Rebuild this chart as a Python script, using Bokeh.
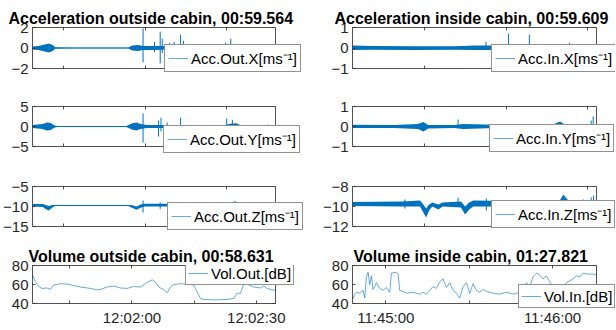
from bokeh.plotting import figure
from bokeh.models import FixedTicker, LinearAxis, Legend, LegendItem, Range1d
from bokeh.layouts import column, row
from bokeh.embed import file_html
from bokeh.resources import INLINE

BLUE = "#0072BD"
AX = "#262626"
FONT = "Liberation Sans"

# ---------------- data (seconds from start of each record) ----------------
# Acceleration outside cabin X : noise envelope + spikes
acc_out_x_t = [0, 1.5, 3, 4, 5, 5.5, 10, 23.5, 24.5, 26, 27, 30, 33, 36, 40, 44, 48, 49.5, 57, 57.7, 58.5, 59.6]
acc_out_x_hi = [.15, .2, .35, .45, .3, .08, .05, .05, .25, .3, .2, .2, .2, .25, .15, .2, .25, .1, .1, .25, .08, .08]
acc_out_x_lo = [-.15, -.2, -.35, -.45, -.3, -.08, -.05, -.05, -.25, -.3, -.2, -.2, -.15, -.2, -.15, -.15, -.2, -.1, -.1, -.2, -.08, -.08]
acc_out_x_spk_t = [27.1, 29.9, 31.3, 31.8, 33.6, 34.7, 36.3, 37.0, 47.3, 48.6]
acc_out_x_spk_lo = [-1.4, -0.4, -1.5, -0.5, -0.3, -0.3, -0.4, -0.3, -0.2, -0.3]
acc_out_x_spk_hi = [1.9, 0.6, 1.6, 0.9, 0.5, 0.6, 1.3, 0.7, 0.5, 0.9]

# Acceleration outside cabin Y
acc_out_y_t = [0, 2.5, 3.5, 4.5, 5.3, 6, 23, 24.5, 25.5, 26.5, 28, 32, 40, 47, 48.5, 50, 51, 52, 57, 57.7, 58.3, 59.6]
acc_out_y_hi = [0.4, 0.6, 1.0, 0.9, 0.3, 0.15, 0.15, 0.8, 1.0, 0.6, 0.4, 0.4, 0.35, 0.4, 0.7, 0.8, 0.3, 0.15, 0.15, 0.5, 0.15, 0.15]
acc_out_y_lo = [-0.4, -0.6, -1.0, -0.9, -0.3, -0.15, -0.15, -0.8, -1.0, -0.6, -0.4, -0.4, -0.35, -0.4, -0.7, -0.8, -0.3, -0.15, -0.15, -0.5, -0.15, -0.15]
acc_out_y_spk_t = [27.1, 30.9, 31.5, 33.0, 36.3, 47.6, 49.0]
acc_out_y_spk_lo = [-4.0, -2.5, -1.2, -0.8, -0.6, -0.5, -0.6]
acc_out_y_spk_hi = [3.3, 1.5, 2.2, 1.0, 2.2, 2.0, 1.6]

# Acceleration outside cabin Z
acc_out_z_t = [0, 2.5, 3.3, 4, 4.8, 5.5, 23.5, 24.5, 25.5, 26.5, 27.5, 47.5, 48.8, 49.7, 50.5, 51.5, 59.6]
acc_out_z_hi = [-9.4, -9.4, -9.6, -9.9, -9.6, -9.6, -9.6, -9.7, -10.0, -9.5, -9.3, -9.3, -9.0, -8.7, -9.2, -9.5, -9.5]
acc_out_z_lo = [-10.0, -10.1, -10.7, -11.0, -10.3, -9.9, -9.9, -10.4, -10.8, -10.3, -10.0, -10.0, -9.8, -9.5, -9.8, -9.9, -9.9]
acc_out_z_spk_t = [27.1, 31.3, 36.3, 54.6]
acc_out_z_spk_lo = [-11.5, -10.6, -10.4, -10.1]
acc_out_z_spk_hi = [-8.5, -9.0, -9.1, -9.4]

# Acceleration inside cabin X
acc_in_x_t = [0, 5, 15, 25, 30, 40, 50, 55, 58, 59.6]
acc_in_x_hi = [0.12, 0.1, 0.08, 0.08, 0.12, 0.12, 0.12, 0.15, 0.15, 0.1]
acc_in_x_lo = [-0.1, -0.08, -0.1, -0.08, -0.1, -0.1, -0.1, -0.12, -0.1, -0.08]
acc_in_x_spk_t = [32.6, 38.1, 43.2, 45.0, 53.0]
acc_in_x_spk_lo = [-0.05, -0.1, -0.1, -0.05, -0.1]
acc_in_x_spk_hi = [0.3, 0.7, 0.65, 0.2, 0.25]

# Acceleration inside cabin Y
acc_in_y_t = [0, 10, 16, 17.3, 18.5, 25, 27, 35, 49, 50.7, 52, 58, 59.6]
acc_in_y_hi = [0.09, 0.08, 0.12, 0.22, 0.08, 0.08, 0.12, 0.09, 0.1, 0.25, 0.09, 0.12, 0.1]
acc_in_y_lo = [-0.08, -0.08, -0.12, -0.25, -0.1, -0.08, -0.12, -0.08, -0.09, -0.08, -0.08, -0.08, -0.08]
acc_in_y_spk_t = [25.8, 58.3, 58.8]
acc_in_y_spk_lo = [-0.1, 0.0, -0.1]
acc_in_y_spk_hi = [0.35, 0.3, 0.5]

# Acceleration inside cabin Z
acc_in_z_t = [0, 12, 16.5, 17.3, 18, 18.7, 19.5, 21, 22, 26.5, 27.5, 28.5, 29.5, 50.5, 51.5, 52.3, 53, 59.6]
acc_in_z_hi = [-9.55, -9.5, -9.4, -9.8, -10.2, -9.8, -9.6, -9.8, -9.6, -9.5, -10.0, -9.6, -9.4, -9.5, -8.8, -9.2, -9.5, -9.5]
acc_in_z_lo = [-9.95, -10.0, -10.0, -10.6, -11.1, -10.4, -10.0, -10.3, -10.0, -10.1, -10.8, -10.3, -10.0, -10.0, -9.6, -9.9, -10.0, -10.0]
acc_in_z_spk_t = [12.8, 25.8, 32.7, 56.4, 58.3, 58.9]
acc_in_z_spk_lo = [-10.2, -10.0, -10.4, -10.0, -10.0, -10.0]
acc_in_z_spk_hi = [-9.3, -9.1, -9.2, -9.3, -9.1, -8.9]

# Volume outside cabin [dB]
vol_out_start = "12:01:36"
vol_out_t = [0, 0.7, 1.5, 2.3, 3.5, 4.3, 5.1, 6.8, 8.4, 10.0, 11.6, 14.0, 15.6, 16.4, 18.0, 19.6,
             21.2, 22.8, 24.4, 26.1, 27.7, 28.9, 29.7, 30.5, 31.7, 32.5, 33.3, 34.1, 35.7, 37.3,
             38.9, 39.7, 40.5, 41.3, 43.7, 47.0, 48.6, 49.4, 50.2, 51.0, 51.8, 53.4, 55.0, 55.8,
             56.6, 57.8, 58.6]
vol_out_db = [70, 63, 58, 56, 56.5, 55, 59.5, 61, 60.5, 59, 57.5, 56, 54.5, 55, 57.5, 58.5,
              56.5, 56, 58, 57.5, 62.5, 65, 62.5, 57.5, 54.5, 51.5, 57.5, 60, 61, 60.5,
              59.5, 52.5, 45.5, 44.5, 44, 44.5, 45.5, 51, 51, 61, 60.5, 57.5, 56.5, 58.5,
              56, 54.5, 54]
vol_out_ticks = ["12:02:00", "12:02:30"]
vol_out_minor = ["12:01:45", "12:02:15"]

# Volume inside cabin [dB]
vol_in_start = "11:44:48"
vol_in_t = [0.2, 0.8, 1.4, 2.6, 3.8, 4.4, 5.0, 5.6, 6.2, 6.8, 7.4, 8.0, 8.6, 9.8, 11.0, 12.2, 13.4,
            14.0, 15.8, 16.4, 17.0, 18.2, 19.4, 21.8, 24.2, 25.4, 26.6, 27.8, 29.0, 30.2, 31.4,
            32.6, 33.8, 35.0, 36.2, 37.4, 38.6, 39.8, 41.0, 42.2, 43.4, 44.6, 45.8, 47.0, 48.2,
            50.6, 53.0, 55.4, 57.8, 60.2, 61.4, 62.6, 63.8, 65.0, 66.2, 67.4, 68.6, 69.8, 71.0,
            72.2, 74.6, 75.8, 77.0, 78.2, 79.4, 80.6, 81.8, 83.0, 84.8, 86.6, 87.8]
vol_in_db = [45, 50, 52, 51, 54, 46, 68, 73, 60, 69, 55, 58, 62, 56, 54, 57, 52,
             72, 73, 71, 54, 53, 51, 52, 50, 52, 50, 54, 58, 56, 63,
             66, 57, 62, 54, 51, 46, 58, 62, 51, 61, 54, 52, 55, 53,
             51, 50, 52, 50, 52, 57, 62, 58, 68, 72, 70, 66, 69, 63,
             58, 54, 58, 62, 64, 66, 69, 68, 72, 71, 71, 70]
vol_in_ticks = ["11:45:00", "11:46:00"]
vol_in_minor = ["11:45:30"]


def secs(hms):
    h, m, s = hms.split(":")
    return int(h) * 3600 + int(m) * 60 + float(s)


def num_label(v):
    return str(v).replace("-", "\u2212")


def style_axis(ax, ticks, show_labels, bounds, minor=None, overrides=None):
    ax.ticker = FixedTicker(ticks=ticks, minor_ticks=minor or [])
    ax.bounds = bounds
    ax.major_tick_in = 3
    ax.major_tick_out = 0
    ax.minor_tick_in = 3
    ax.minor_tick_out = 0
    ax.minor_tick_line_color = AX
    ax.minor_tick_line_width = 0.8
    ax.axis_line_color = AX
    ax.axis_line_width = 0.8
    ax.major_tick_line_color = AX
    ax.major_tick_line_width = 0.8
    ax.major_label_text_font = FONT
    if show_labels:
        ax.major_label_text_color = AX
        ax.major_label_text_font_size = "15px"
        ax.major_label_standoff = 4
        ax.major_label_overrides = overrides or {t: num_label(t) for t in ticks}
    else:
        ax.major_label_text_color = None
        ax.major_label_text_font_size = "1px"
        ax.major_label_standoff = 0


def make_fig(side, height, bt, bb, box_h, eb, xr, yr, xticks, yticks,
             xminor=None, title=None, title_dx=0, xlabels=None):
    # visible axes box + extension of the frame (room for the legend box)
    if side == "L":
        bl, bw, er = 32, 243, 28
    else:
        bl, bw, er = 44, 244, 19
    br = 308 - bl - bw - er
    x0, x1 = xr
    y0, y1 = yr
    xe = x1 + er * (x1 - x0) / bw
    ys = y0 - eb * (y1 - y0) / box_h
    p = figure(width=308, height=height, output_backend="svg", toolbar_location=None,
               x_range=Range1d(x0, xe), y_range=Range1d(ys, y1), title=title,
               min_border_left=bl, min_border_right=br, min_border_top=bt, min_border_bottom=bb)
    p.grid.visible = False
    p.outline_line_color = None
    p.background_fill_color = "white"
    p.border_fill_color = "white"
    if title is not None:
        p.title.text_font = FONT
        p.title.text_font_size = "16px"
        p.title.text_font_style = "bold"
        p.title.text_color = "black"
        p.title.align = "left"
        p.title.offset = title_dx
        p.title.standoff = 2
    xa = p.xaxis[0]
    if xlabels is None:
        style_axis(xa, xticks, False, (x0, x1), xminor)
        xa.fixed_location = y0
    else:
        # labelled axis in the panel under the frame: labels only
        style_axis(xa, xticks, True, (x0, x1), None,
                   {t: l for t, l in zip(xticks, xlabels)})
        xa.axis_line_color = None
        xa.major_tick_line_color = None
        xa.minor_tick_line_color = None
        xa.major_label_standoff = 0
        # box edge with ticks at the bottom of the visible box
        ba = LinearAxis(fixed_location=y0)
        style_axis(ba, xticks, False, (x0, x1), xminor)
        p.add_layout(ba, "below")
    ya = p.yaxis[0]
    style_axis(ya, yticks, True, (y0, y1))
    ra = LinearAxis(fixed_location=x1)
    style_axis(ra, yticks, False, (y0, y1))
    p.add_layout(ra, "right")
    ta = LinearAxis()
    style_axis(ta, xticks, False, (x0, x1), xminor)
    p.add_layout(ta, "above")
    return p


def add_legend(p, r, label, loc, pad=3):
    leg = Legend(items=[LegendItem(label=label, renderers=[r])], location=loc,
                 padding=pad, spacing=0, margin=0, glyph_width=20, glyph_height=18,
                 label_height=18, label_standoff=3, label_text_font=FONT,
                 label_text_font_size="15px", label_text_color="black",
                 border_line_color=AX, border_line_width=0.8,
                 background_fill_color="white", background_fill_alpha=1)
    p.add_layout(leg)


def acc_panel(side, height, bt, bb, box_h, dur, yr, xticks, yticks, t, lo, hi, st, slo, shi,
              label, loc, title=None, title_dx=0):
    p = make_fig(side, height, bt, bb, box_h, 8, (0, dur), yr, xticks, yticks,
                 title=title, title_dx=title_dx)
    p.varea(x=t, y1=lo, y2=hi, fill_color=BLUE)
    p.segment(x0=st, y0=slo, x1=st, y1=shi, line_color=BLUE, line_width=1)
    mid = [(a + b) / 2 for a, b in zip(lo, hi)]
    r = p.line(t, mid, line_color=BLUE, line_width=0.6)
    add_legend(p, r, label, loc)
    return p


LX = [7.6, 27.6, 47.6]
RX = [17.5, 37.5, 57.5]
SUP = "[ms\u207b\u00b9]"

p1 = acc_panel("L", 87, 27, 11, 41, 59.564, (-2, 2), LX, [-2, 0, 2],
               acc_out_x_t, acc_out_x_lo, acc_out_x_hi,
               acc_out_x_spk_t, acc_out_x_spk_lo, acc_out_x_spk_hi,
               "Acc.Out.X" + SUP, (132, 4),
               title="Acceleration outside cabin, 00:59.564", title_dx=-24)
p2 = acc_panel("R", 87, 27, 11, 41, 59.609, (-1, 1), RX, [-1, 0, 1],
               acc_in_x_t, acc_in_x_lo, acc_in_x_hi,
               acc_in_x_spk_t, acc_in_x_spk_lo, acc_in_x_spk_hi,
               "Acc.In.X" + SUP, (139, 4),
               title="Acceleration inside cabin, 00:59.609", title_dx=-18)
p3 = acc_panel("L", 79, 19, 12, 40, 59.564, (-5, 5), LX, [-5, 0, 5],
               acc_out_y_t, acc_out_y_lo, acc_out_y_hi,
               acc_out_y_spk_t, acc_out_y_spk_lo, acc_out_y_spk_hi,
               "Acc.Out.Y" + SUP, (131, 1))
p4 = acc_panel("R", 79, 19, 12, 40, 59.609, (-1, 1), RX, [-1, 0, 1],
               acc_in_y_t, acc_in_y_lo, acc_in_y_hi,
               acc_in_y_spk_t, acc_in_y_spk_lo, acc_in_y_spk_hi,
               "Acc.In.Y" + SUP, (137, 2))
p5 = acc_panel("L", 78, 20, 10, 40, 59.564, (-15, -5), LX, [-15, -10, -5],
               acc_out_z_t, acc_out_z_lo, acc_out_z_hi,
               acc_out_z_spk_t, acc_out_z_spk_lo, acc_out_z_spk_hi,
               "Acc.Out.Z" + SUP, (135, 4))
p6 = acc_panel("R", 78, 20, 10, 40, 59.609, (-12, -8), RX, [-12, -10, -8],
               acc_in_z_t, acc_in_z_lo, acc_in_z_hi,
               acc_in_z_spk_t, acc_in_z_spk_lo, acc_in_z_spk_hi,
               "Acc.In.Z" + SUP, (139, 6))

vo0 = secs(vol_out_start)
p7 = make_fig("L", 86, 19, 22, 40, 5, (0, 58.631), (40, 80),
              [secs(s) - vo0 for s in vol_out_ticks], [40, 60, 80],
              xminor=[secs(s) - vo0 for s in vol_out_minor],
              title="Volume outside cabin, 00:58.631", title_dx=-4, xlabels=vol_out_ticks)
r7 = p7.line(vol_out_t, vol_out_db, line_color=BLUE, line_width=0.6)
add_legend(p7, r7, "Vol.Out.[dB]", (153, 23), pad=2)

vi0 = secs(vol_in_start)
p8 = make_fig("R", 86, 19, 22, 40, 5, (0, 87.821), (40, 80),
              [secs(s) - vi0 for s in vol_in_ticks], [40, 60, 80],
              xminor=[secs(s) - vi0 for s in vol_in_minor],
              title="Volume inside cabin, 01:27.821", title_dx=1, xlabels=vol_in_ticks)
r8 = p8.line(vol_in_t, vol_in_db, line_color=BLUE, line_width=0.6)
add_legend(p8, r8, "Vol.In.[dB]", (166, 0), pad=2)

layout = column(row(p1, p2), row(p3, p4), row(p5, p6), row(p7, p8))
open("out.html", "w").write(file_html(layout, INLINE))
